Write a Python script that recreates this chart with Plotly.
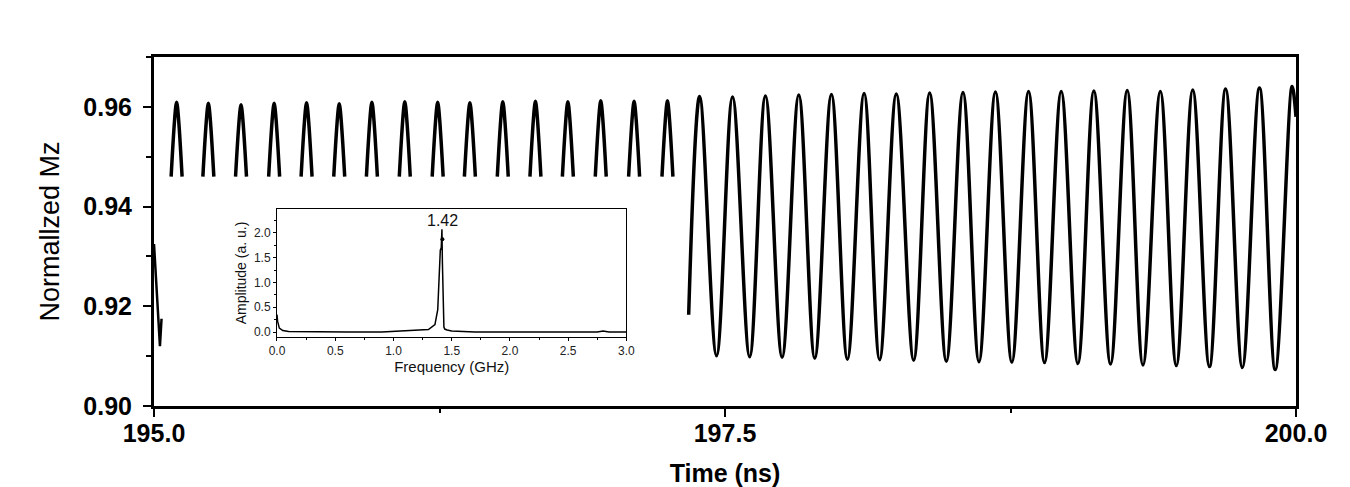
import plotly.graph_objects as go

# ---------------- main signal (time in ns, normalized Mz) ----------------
# initial transient segment
start_t = [195.000, 195.026, 195.033]
start_v = [0.9325, 0.9120, 0.9175]

# regime 1: only tops of the oscillation above the base level are recorded
arch_start_t = [195.075, 195.214, 195.357, 195.502, 195.644, 195.787, 195.930, 196.074,
                196.218, 196.359, 196.503, 196.646, 196.788, 196.932, 197.078, 197.224]
arch_peak_t = [195.099, 195.238, 195.381, 195.526, 195.668, 195.811, 195.954, 196.098,
               196.242, 196.383, 196.527, 196.670, 196.812, 196.956, 197.102, 197.248]
arch_end_t = [195.123, 195.262, 195.405, 195.550, 195.692, 195.835, 195.978, 196.122,
              196.266, 196.407, 196.551, 196.694, 196.836, 196.980, 197.126, 197.272]
arch_peak_v = [0.9609, 0.9607, 0.9604, 0.9607, 0.9608, 0.9606, 0.9609, 0.9610,
               0.9609, 0.9608, 0.9610, 0.9611, 0.9610, 0.9612, 0.9611, 0.9612]
arch_base_v = 0.9460

# regime 2: full oscillation
osc_start = (197.341, 0.9183)
osc_peak_t = [197.389, 197.533, 197.677, 197.823, 197.966, 198.109, 198.250, 198.396,
              198.542, 198.684, 198.829, 198.972, 199.115, 199.261, 199.406, 199.548,
              199.692, 199.840, 199.983]
osc_peak_v = [0.9621, 0.9620, 0.9622, 0.9624, 0.9625, 0.9627, 0.9626, 0.9628,
              0.9629, 0.9630, 0.9631, 0.9631, 0.9632, 0.9633, 0.9631, 0.9634,
              0.9636, 0.9638, 0.9641]
osc_trough_t = [197.463, 197.608, 197.750, 197.893, 198.036, 198.177, 198.326, 198.469,
                198.612, 198.756, 198.899, 199.045, 199.188, 199.330, 199.476, 199.621,
                199.765, 199.909]
osc_trough_v = [0.9101, 0.9099, 0.9098, 0.9096, 0.9094, 0.9093, 0.9092, 0.9090,
                0.9089, 0.9088, 0.9087, 0.9085, 0.9084, 0.9082, 0.9081, 0.9079,
                0.9077, 0.9073]
osc_end = (200.000, 0.9580)

# ---------------- inset FFT spectrum ----------------
freq_ghz = [0.0, 0.005, 0.02, 0.05, 0.1, 0.3, 0.6, 0.9, 1.0, 1.05, 1.1, 1.2, 1.3, 1.356,
            1.38, 1.39, 1.402, 1.41, 1.416, 1.42, 1.425, 1.433, 1.44, 1.46, 1.5, 1.6,
            1.68, 1.70, 2.0, 2.5, 2.75, 2.80, 2.85, 3.0]
amp_au = [0.35, 0.22, 0.08, 0.03, 0.01, 0.0, 0.0, 0.0, 0.01, 0.02, 0.02, 0.03, 0.05, 0.15,
          0.45, 1.00, 1.65, 1.70, 2.07, 1.40, 0.60, 0.10, 0.06, 0.04, 0.02, 0.015,
          0.01, 0.0, 0.0, 0.0, 0.0, 0.02, 0.0, 0.0]
peak_freq = 1.42
peak_marker_amp = 1.87
peak_label = "1.42"

# ---------------- build traces ----------------
arch_x, arch_y = [], []
for s, p, e, v in zip(arch_start_t, arch_peak_t, arch_end_t, arch_peak_v):
    arch_x += [s, p, e, None]
    arch_y += [arch_base_v, v, arch_base_v, None]

osc_x, osc_y = [osc_start[0]], [osc_start[1]]
for i, (pt, pv) in enumerate(zip(osc_peak_t, osc_peak_v)):
    osc_x.append(pt)
    osc_y.append(pv)
    if i < len(osc_trough_t):
        osc_x.append(osc_trough_t[i])
        osc_y.append(osc_trough_v[i])
osc_x.append(osc_end[0])
osc_y.append(osc_end[1])

FONT = "Arial, 'Liberation Sans', sans-serif"
LW = 3.5

fig = go.Figure()
fig.add_trace(go.Scatter(x=start_t, y=start_v, mode="lines", line=dict(color="black", width=2.5),
                         showlegend=False, hoverinfo="skip"))
fig.add_trace(go.Scatter(x=arch_x, y=arch_y, mode="lines", connectgaps=False,
                         line=dict(color="black", width=LW, shape="spline", smoothing=0.8),
                         showlegend=False, hoverinfo="skip"))
fig.add_trace(go.Scatter(x=osc_x, y=osc_y, mode="lines",
                         line=dict(color="black", width=LW, shape="spline", smoothing=1.0),
                         showlegend=False, hoverinfo="skip"))

fig.add_trace(go.Scatter(x=freq_ghz, y=amp_au, mode="lines", xaxis="x2", yaxis="y2",
                         line=dict(color="black", width=1.5),
                         showlegend=False, hoverinfo="skip"))
fig.add_trace(go.Scatter(x=[peak_freq], y=[peak_marker_amp], mode="markers", xaxis="x2", yaxis="y2",
                         marker=dict(color="black", size=4),
                         showlegend=False, hoverinfo="skip"))

fig.add_annotation(x=peak_freq, y=2.24, xref="x2", yref="y2", text=peak_label,
                   showarrow=False, font=dict(family=FONT, size=16, color="#111"))

fig.update_layout(
    width=1350, height=487,
    margin=dict(l=154, r=54, t=57, b=81),
    paper_bgcolor="white", plot_bgcolor="white",
    font=dict(family=FONT, color="black"),
    xaxis=dict(
        range=[195, 200], tickvals=[195, 197.5, 200], ticktext=["195.0", "197.5", "200.0"],
        automargin=False, ticklabelstandoff=-5,
        showline=True, linewidth=3, linecolor="black", mirror=True,
        ticks="outside", ticklen=8, tickwidth=2, tickcolor="black",
        minor=dict(dtick=1.25, tick0=195, ticks="outside", ticklen=4, tickwidth=2, tickcolor="black"),
        showgrid=False, zeroline=False,
        tickfont=dict(family=FONT, size=25, color="black", weight="bold"),
        title=dict(text="<b>Time (ns)</b>", font=dict(family=FONT, size=25, color="black"), standoff=26),
    ),
    yaxis=dict(
        range=[0.90, 0.97], tick0=0.90, dtick=0.02, tickformat=".2f",
        automargin=False, ticklabelstandoff=6,
        showline=True, linewidth=3, linecolor="black", mirror=True,
        ticks="outside", ticklen=8, tickwidth=2, tickcolor="black",
        minor=dict(dtick=0.01, ticks="outside", ticklen=5, tickwidth=2, tickcolor="black"),
        showgrid=False, zeroline=False,
        tickfont=dict(family=FONT, size=25, color="black", weight="bold"),
        title=dict(text="Normallzed Mz", font=dict(family=FONT, size=27, color="black"), standoff=16),
    ),
    xaxis2=dict(
        domain=[0.1077, 0.4137], anchor="y2", range=[0, 3], dtick=0.5, tick0=0, tickformat=".1f",
        showline=True, linewidth=1, linecolor="black", mirror=True,
        ticks="outside", ticklen=3, tickwidth=1, tickcolor="black",
        minor=dict(dtick=0.25, ticks="outside", ticklen=2, tickcolor="black"),
        showgrid=False, zeroline=False,
        tickfont=dict(family=FONT, size=12, color="#222"),
        title=dict(text="Frequency (GHz)", font=dict(family=FONT, size=15, color="#111"), standoff=2),
    ),
    yaxis2=dict(
        domain=[0.1977, 0.5645], anchor="x2", range=[-0.1, 2.48], dtick=0.5, tick0=0, tickformat=".1f",
        showline=True, linewidth=1, linecolor="black", mirror=True,
        ticks="outside", ticklen=3, tickwidth=1, tickcolor="black",
        minor=dict(dtick=0.25, ticks="outside", ticklen=2, tickcolor="black"),
        showgrid=False, zeroline=False,
        tickfont=dict(family=FONT, size=12, color="#222"),
        title=dict(text="Amplitude (a. u.)", font=dict(family=FONT, size=14, color="#111"), standoff=3),
    ),
)

fig.write_html("out.html")
